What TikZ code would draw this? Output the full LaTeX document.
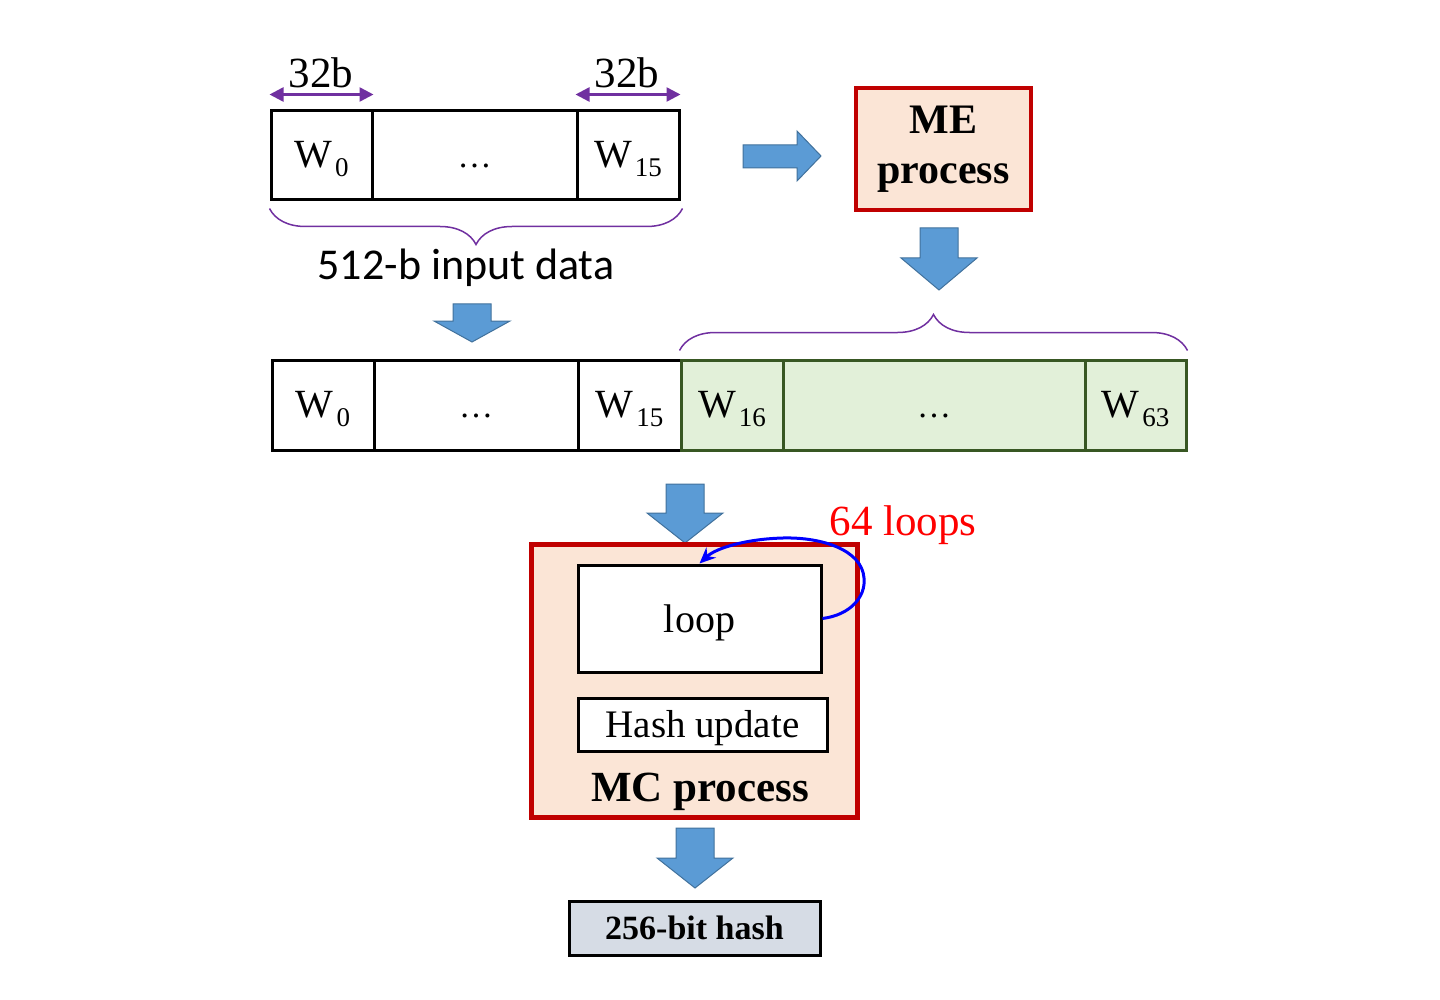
\documentclass[tikz,border=0pt]{standalone}
\usepackage{fontspec}
\setmainfont{Liberation Serif}
\newfontfamily\calfont{Carlito}
\usetikzlibrary{arrows.meta,decorations.pathreplacing}
\definecolor{purp}{HTML}{7030A0}
\definecolor{arrowblue}{HTML}{5B9BD5}
\definecolor{arrowedge}{HTML}{41719C}
\definecolor{darkred}{HTML}{C00000}
\definecolor{peach}{HTML}{FBE5D6}
\definecolor{lgreen}{HTML}{E2F0D9}
\definecolor{dgreen}{HTML}{385723}
\definecolor{hashfill}{HTML}{D6DCE5}
\newcommand{\Wsub}[1]{W\hspace{3pt}\raisebox{-9pt}{\fontsize{27}{27}\selectfont #1}}
\newcommand{\dnblock}[4]{% cx, top, headstart, tip
  \draw[blockarrow] (#1-19,#2) -- (#1+19,#2) -- (#1+19,#3) -- (#1+38,#3) -- (#1,#4) -- (#1-38,#3) -- (#1-19,#3) -- cycle;}
\begin{document}
\begin{tikzpicture}[x=1pt,y=-1pt,
  cell/.style={draw=black, line width=3pt, fill=white, inner sep=0pt, text height=24pt, text depth=0pt, font=\fontsize{40}{44}\selectfont},
  gcell/.style={cell, draw=dgreen, fill=lgreen},
  blockarrow/.style={fill=arrowblue, draw=arrowedge, line width=1pt, line join=miter},
  sizebar/.style={{Triangle[length=14pt,width=14pt]}-{Triangle[length=14pt,width=14pt]}, draw=purp, line width=2.5pt},
  bracepath/.style={decorate, decoration={brace, amplitude=36pt}, draw=purp, line width=1.5pt},
  procbox/.style={draw=darkred, line width=4.5pt, fill=peach, inner sep=0pt, align=center, font=\bfseries\fontsize{42}{50}\selectfont},
  plainbox/.style={draw=black, line width=3pt, fill=white, inner sep=0pt},
  lbl/.style={inner sep=0pt},
  dotsfont/.style={font=\fontsize{34}{34}\selectfont}
]
\useasboundingbox (0,0) rectangle (1440,1000);

% ---- top row: 512-b input
\node[cell, minimum width=101pt, minimum height=89pt] (a0) at (321.5,155.5) {\Wsub{0}};
\node[cell, dotsfont, minimum width=205pt, minimum height=89pt] (am) at (474.5,155.5) {\dots};
\node[cell, minimum width=102pt, minimum height=89pt] (a15) at (628,155.5) {\Wsub{15}};

\node[lbl, font=\fontsize{43}{43}\selectfont] (l32a) at (321,73) {32b};
\node[lbl, font=\fontsize{43}{43}\selectfont] (l32b) at (627,73) {32b};
\draw[sizebar] ([yshift=15pt]a0.north west) -- ([yshift=15pt]a0.north east);
\draw[sizebar] ([yshift=15pt]a15.north west) -- ([yshift=15pt]a15.north east);

\draw[bracepath, decoration={mirror}] ([yshift=-7pt]a0.south west) -- ([yshift=-7pt,xshift=2pt]a15.south east);
\node[lbl, font=\calfont\fontsize{44}{44}\selectfont] (indata) at (466,268) {512-b input data};

% ---- ME process
\node[procbox, minimum width=175pt, minimum height=122pt] (me) at (943.5,149) {ME\\process};
\draw[blockarrow] (743,145) -- (797,145) -- (797,131) -- (821,156) -- (797,181) -- (797,168) -- (743,168) -- cycle;
\dnblock{939}{228}{258}{290}

% ---- second row
\dnblock{472}{304}{321}{342}
\node[cell, minimum width=102pt, minimum height=90pt] (b0) at (323,405) {\Wsub{0}};
\node[cell, dotsfont, minimum width=204pt, minimum height=90pt] (bm) at (476,405) {\dots};
\node[cell, minimum width=103pt, minimum height=90pt] (b15) at (629.5,405) {\Wsub{15}};
\node[gcell, minimum width=102pt, minimum height=90pt] (b16) at (732,405) {\Wsub{16}};
\node[gcell, dotsfont, minimum width=302pt, minimum height=90pt] (bgm) at (934,405) {\dots};
\node[gcell, minimum width=101pt, minimum height=90pt] (b63) at (1135.5,405) {\Wsub{63}};
\draw[bracepath] ([yshift=8pt]b16.north west) -- ([yshift=8pt]b63.north east);

% ---- MC process
\dnblock{685}{484}{513}{543}
\node[procbox, line width=5pt, minimum width=326pt, minimum height=273pt] (mc) at (694,680.5) {};
\node[plainbox, minimum width=243pt, minimum height=107pt, text height=27pt, text depth=0pt, font=\fontsize{40}{40}\selectfont] (loop) at (699.5,618.5) {loop};
\node[plainbox, minimum width=249pt, minimum height=53pt, text height=26pt, text depth=0pt, font=\fontsize{39}{39}\selectfont] (hash) at (702.5,724.5) {Hash update};
\node[lbl, font=\bfseries\fontsize{43}{43}\selectfont] (mclbl) at (700,792) {MC process};
\node[lbl, text=red, font=\fontsize{43}{43}\selectfont] (nloops) at (903,525) {64 loops};
\draw[draw=blue, line width=3pt, -{Stealth[length=16pt,width=14pt]}] (loop.east) .. controls (850,615) and (866,597) .. (864,578) .. controls (862,550) and (822,537) .. (783,538) .. controls (746,539) and (716,548) .. (loop.north);

% ---- output
\dnblock{695}{828}{858}{888}
\node[plainbox, fill=hashfill, minimum width=251pt, minimum height=54pt, font=\bfseries\fontsize{34}{34}\selectfont] (out) at (694.5,928) {256-bit hash};
\end{tikzpicture}
\end{document}
